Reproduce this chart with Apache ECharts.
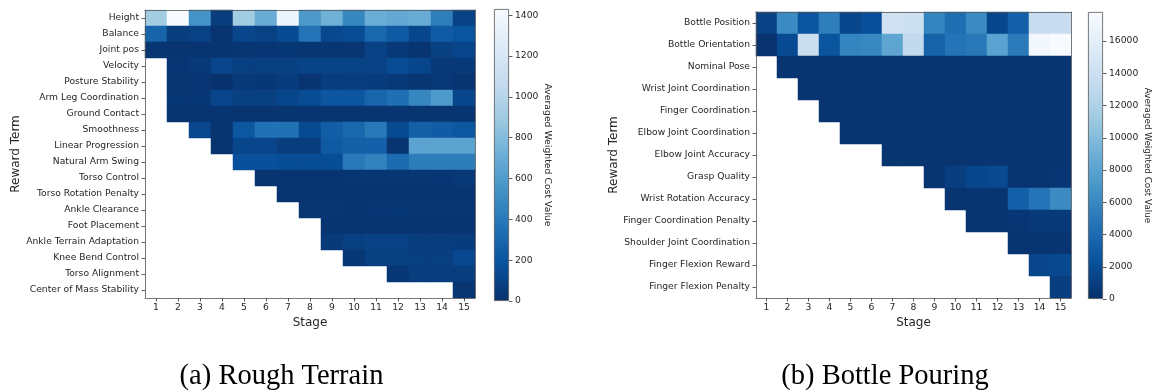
<!DOCTYPE html>
<html>
<head>
<meta charset="utf-8">
<script src="https://cdn.jsdelivr.net/npm/echarts@6/dist/echarts.min.js"></script>
<style>
  html, body { margin: 0; padding: 0; background: #fff; }
  #chart { width: 1156px; height: 391px; }
</style>
</head>
<body>
<div id="chart"></div>
<script>
// Stage labels shared by both heatmaps
const stages = ['1','2','3','4','5','6','7','8','9','10','11','12','13','14','15'];

// (a) Rough Terrain: reward terms and averaged weighted cost per stage (null = term not active yet)
const terrainTerms = [
  'Height', 'Balance', 'Joint pos', 'Velocity', 'Posture Stability', 'Arm Leg Coordination',
  'Ground Contact', 'Smoothness', 'Linear Progression', 'Natural Arm Swing', 'Torso Control',
  'Torso Rotation Penalty', 'Ankle Clearance', 'Foot Placement', 'Ankle Terrain Adaptation',
  'Knee Bend Control', 'Torso Alignment', 'Center of Mass Stability'
];
const N = null;
const terrainCost = [
  [915, 1430, 545, 70, 910, 700, 1360, 575, 730, 470, 710, 680, 700, 430, 95],
  [285, 70, 95, 25, 115, 95, 145, 370, 130, 150, 300, 230, 120, 235, 200],
  [30, 25, 25, 20, 30, 35, 40, 30, 30, 30, 90, 50, 25, 85, 110],
  [N, 35, 50, 115, 80, 80, 85, 105, 105, 100, 95, 150, 120, 55, 55],
  [N, 30, 35, 10, 55, 40, 65, 25, 75, 75, 65, 45, 30, 45, 25],
  [N, 40, 40, 115, 85, 85, 120, 150, 205, 205, 290, 345, 470, 590, 120],
  [N, 25, 25, 25, 25, 25, 20, 20, 20, 20, 20, 20, 20, 20, 25],
  [N, N, 125, 20, 215, 360, 360, 140, 250, 300, 400, 140, 260, 240, 210],
  [N, N, N, 20, 120, 115, 70, 70, 230, 260, 270, 25, 640, 650, 650],
  [N, N, N, N, 175, 175, 160, 160, 160, 400, 450, 320, 420, 420, 420],
  [N, N, N, N, N, 25, 25, 25, 25, 30, 30, 30, 30, 35, 45],
  [N, N, N, N, N, N, 25, 25, 25, 25, 25, 25, 25, 25, 25],
  [N, N, N, N, N, N, N, 30, 30, 25, 35, 40, 30, 30, 30],
  [N, N, N, N, N, N, N, N, 25, 25, 25, 25, 25, 25, 25],
  [N, N, N, N, N, N, N, N, 55, 80, 95, 95, 70, 70, 65],
  [N, N, N, N, N, N, N, N, N, 40, 80, 85, 80, 80, 125],
  [N, N, N, N, N, N, N, N, N, N, N, 40, 70, 70, 75],
  [N, N, N, N, N, N, N, N, N, N, N, N, N, N, 30]
];
const terrainTicks = [0, 200, 400, 600, 800, 1000, 1200, 1400];

// (b) Bottle Pouring
const bottleTerms = [
  'Bottle Position', 'Bottle Orientation', 'Nominal Pose', 'Wrist Joint Coordination',
  'Finger Coordination', 'Elbow Joint Coordination', 'Elbow Joint Accuracy', 'Grasp Quality',
  'Wrist Rotation Accuracy', 'Finger Coordination Penalty', 'Shoulder Joint Coordination',
  'Finger Flexion Reward', 'Finger Flexion Penalty'
];
const bottleCost = [
  [1150, 6200, 2500, 5300, 1450, 2100, 14300, 14000, 5700, 4300, 6200, 1450, 3300, 13600, 13600],
  [200, 1750, 13700, 2500, 5700, 5900, 8200, 13200, 3500, 4600, 5000, 8000, 5050, 17300, 17800],
  [N, 300, 280, 260, 250, 270, 250, 240, 260, 250, 240, 250, 260, 250, 260],
  [N, N, 320, 260, 250, 250, 240, 240, 250, 240, 240, 250, 250, 250, 250],
  [N, N, N, 260, 250, 250, 240, 240, 240, 240, 240, 240, 250, 250, 250],
  [N, N, N, N, 250, 250, 240, 240, 240, 240, 240, 240, 250, 250, 250],
  [N, N, N, N, N, N, 240, 240, 240, 240, 240, 240, 250, 250, 250],
  [N, N, N, N, N, N, N, N, 300, 900, 1500, 1700, 300, 300, 350],
  [N, N, N, N, N, N, N, N, N, 300, 300, 300, 3300, 4600, 6200],
  [N, N, N, N, N, N, N, N, N, N, 300, 300, 350, 600, 700],
  [N, N, N, N, N, N, N, N, N, N, N, N, 300, 300, 300],
  [N, N, N, N, N, N, N, N, N, N, N, N, N, 1400, 1600],
  [N, N, N, N, N, N, N, N, N, N, N, N, N, N, 900]
];
const bottleTicks = [0, 2000, 4000, 6000, 8000, 10000, 12000, 14000, 16000];

// Reversed "Blues" ramp: low values dark navy, high values near white
const bluesR = ['#08306b', '#08519c', '#2171b5', '#4292c6', '#6baed6', '#9ecae1', '#c6dbef', '#deebf7', '#f7fbff'];

function toCells(matrix) {
  const out = [];
  matrix.forEach((row, y) => row.forEach((v, x) => { if (v !== null) out.push([x, y, v]); }));
  return out;
}
function maxOf(matrix) {
  let m = 0;
  matrix.forEach(row => row.forEach(v => { if (v !== null && v > m) m = v; }));
  return m;
}
const terrainMax = maxOf(terrainCost);
const bottleMax = maxOf(bottleCost);

const FONT = 'DejaVu Sans';
const TXT = '#262626';
const SPINE = '#555';

function gradient() {
  return {
    type: 'linear', x: 0, y: 1, x2: 0, y2: 0,
    colorStops: bluesR.map((c, i) => ({ offset: i / (bluesR.length - 1), color: c }))
  };
}

function catX(gridIndex, nameGap) {
  return {
    type: 'category', gridIndex, data: stages, z: 5,
    axisLine: { show: true, lineStyle: { color: SPINE, width: 0.8 } },
    axisTick: { show: true, alignWithLabel: true, length: 3.5, lineStyle: { color: '#333', width: 0.8 } },
    axisLabel: { fontFamily: FONT, fontSize: 9.2, color: TXT, margin: 5 },
    splitLine: { show: false },
    name: 'Stage', nameLocation: 'middle', nameGap,
    nameTextStyle: { fontFamily: FONT, fontSize: 12, color: TXT }
  };
}
function frameX(gridIndex) {
  return {
    type: 'category', gridIndex, data: stages, position: 'top', z: 5,
    axisLine: { show: true, lineStyle: { color: SPINE, width: 0.8 } },
    axisTick: { show: false }, axisLabel: { show: false }, splitLine: { show: false }
  };
}
function catY(gridIndex, terms, nameGap) {
  return {
    type: 'category', gridIndex, data: terms, inverse: true, z: 5,
    axisLine: { show: true, lineStyle: { color: SPINE, width: 0.8 } },
    axisTick: { show: true, alignWithLabel: true, length: 3.5, lineStyle: { color: '#333', width: 0.8 } },
    axisLabel: { fontFamily: FONT, fontSize: 9.2, color: TXT, margin: 6 },
    splitLine: { show: false },
    name: 'Reward Term', nameLocation: 'middle', nameGap, nameRotate: 90,
    nameTextStyle: { fontFamily: FONT, fontSize: 12, color: TXT }
  };
}
function frameY(gridIndex, terms) {
  return {
    type: 'category', gridIndex, data: terms, inverse: true, position: 'right', z: 5,
    axisLine: { show: true, lineStyle: { color: SPINE, width: 0.8 } },
    axisTick: { show: false }, axisLabel: { show: false }, splitLine: { show: false }
  };
}
function barX(gridIndex) {
  return { type: 'category', gridIndex, data: [''], show: false };
}
function barY(gridIndex, max, ticks, nameGap, nameSize) {
  return {
    type: 'value', gridIndex, min: 0, max, position: 'right',
    axisLine: { show: false },
    axisTick: { show: true, length: 3.5, customValues: ticks, lineStyle: { color: '#333', width: 0.8 } },
    axisLabel: { fontFamily: FONT, fontSize: 9.2, color: TXT, margin: 6, customValues: ticks,
                 formatter: v => String(v) },
    splitLine: { show: false },
    name: 'Averaged Weighted Cost Value', nameLocation: 'middle', nameGap, nameRotate: -90,
    nameTextStyle: { fontFamily: FONT, fontSize: nameSize, color: TXT }
  };
}

const chart = echarts.init(document.getElementById('chart'), null, { renderer: 'canvas' });
chart.setOption({
  backgroundColor: '#fff',
  animation: false,
  grid: [
    { left: 145, top: 10, width: 330, height: 288 },
    { left: 494, top: 9, width: 15, height: 292 },
    { left: 756, top: 12, width: 315, height: 286 },
    { left: 1088, top: 12, width: 15, height: 287 }
  ],
  xAxis: [catX(0, 19), frameX(0), barX(1), catX(2, 18), frameX(2), barX(3)],
  yAxis: [catY(0, terrainTerms, 122), frameY(0, terrainTerms), barY(1, terrainMax, terrainTicks, 34, 9.3),
          catY(2, bottleTerms, 135), frameY(2, bottleTerms), barY(3, bottleMax, bottleTicks, 40, 8.8)],
  visualMap: [
    { type: 'continuous', show: false, min: 0, max: terrainMax, seriesIndex: 0, dimension: 2, inRange: { color: bluesR } },
    { type: 'continuous', show: false, min: 0, max: bottleMax, seriesIndex: 2, dimension: 2, inRange: { color: bluesR } }
  ],
  series: [
    { type: 'heatmap', xAxisIndex: 0, yAxisIndex: 0, data: toCells(terrainCost), itemStyle: { borderWidth: 0 } },
    { type: 'bar', xAxisIndex: 2, yAxisIndex: 2, data: [terrainMax], barWidth: '100%',
      itemStyle: { color: gradient(), borderColor: SPINE, borderWidth: 0.8 } },
    { type: 'heatmap', xAxisIndex: 3, yAxisIndex: 3, data: toCells(bottleCost), itemStyle: { borderWidth: 0 } },
    { type: 'bar', xAxisIndex: 5, yAxisIndex: 5, data: [bottleMax], barWidth: '100%',
      itemStyle: { color: gradient(), borderColor: SPINE, borderWidth: 0.8 } }
  ],
  graphic: [
    { type: 'text', x: 281.5, y: 377, style: { text: '(a) Rough Terrain', fontFamily: 'Liberation Serif', fontSize: 28.5,
      fill: '#000', align: 'center', verticalAlign: 'middle' } },
    { type: 'text', x: 885, y: 377, style: { text: '(b) Bottle Pouring', fontFamily: 'Liberation Serif', fontSize: 28.5,
      fill: '#000', align: 'center', verticalAlign: 'middle' } }
  ]
});
</script>
</body>
</html>
